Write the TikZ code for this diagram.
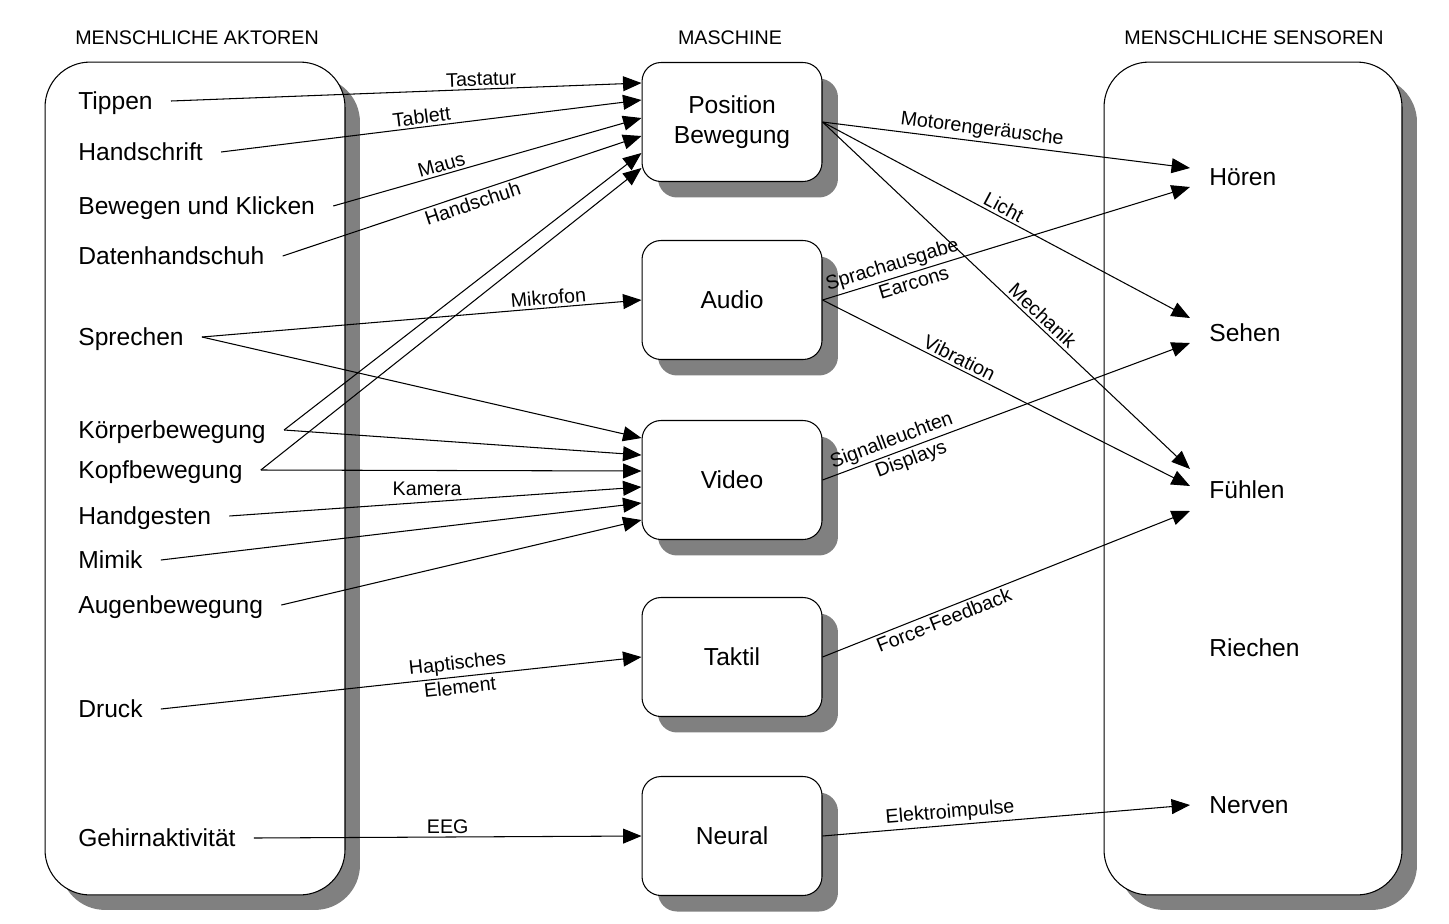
\documentclass[tikz,border=0pt]{standalone}
\usepackage{fontspec}
\setmainfont{Liberation Sans}
\usetikzlibrary{arrows.meta, shadows}

\begin{document}
\begin{tikzpicture}[
  x=0.02cm, y=-0.02cm,
  gruppe/.style={draw, line width=0.6pt, fill=white, rounded corners=0.9cm,
    general shadow={fill=black!50, shadow xshift=0.3cm, shadow yshift=-0.3cm}},
  kanal/.style={draw, line width=0.6pt, fill=white, rounded corners=0.38cm,
    minimum width=3.6cm, minimum height=2.38cm, align=center,
    font=\fontsize{14}{17}\selectfont,
    general shadow={fill=black!50, shadow xshift=0.32cm, shadow yshift=-0.32cm}},
  titel/.style={font=\fontsize{11.2}{13}\selectfont},
  aktor/.style={anchor=west, inner xsep=0.36cm, text height=11pt, text depth=1pt,
    font=\fontsize{14}{16}\selectfont},
  sensor/.style={anchor=west, inner xsep=0.38cm, text height=11pt, text depth=1pt,
    font=\fontsize{14}{16}\selectfont},
  msg/.style={-{Triangle[length=10.5pt, width=8.5pt]}, line width=0.6pt},
  lbl/.style={font=\fontsize{11.2}{13}\selectfont, inner sep=1.5pt}
]
\useasboundingbox (0,0) rectangle (1449,923);

\node[titel] (t1) at (197,38) {MENSCHLICHE AKTOREN};
\node[titel] (t2) at (730,38) {MASCHINE};
\node[titel] (t3) at (1254,38) {MENSCHLICHE SENSOREN};

\node[gruppe, minimum width=6cm, minimum height=16.66cm] (aktoren) at (195,478.5) {};
\node[gruppe, minimum width=5.96cm, minimum height=16.66cm] (sensoren) at (1253,478.5) {};

\node[kanal] (pos) at (732,122) {Position\\Bewegung};
\node[kanal] (audio) at (732,300) {Audio};
\node[kanal] (video) at (732,480) {Video};
\node[kanal] (taktil) at (732,657) {Taktil};
\node[kanal] (neural) at (732,836) {Neural};

\node[aktor] (tippen) at (60,101) {Tippen};
\node[aktor] (handschrift) at (60,152) {Handschrift};
\node[aktor] (klicken) at (60,206) {Bewegen und Klicken};
\node[aktor] (handschuh) at (60,256) {Datenhandschuh};
\node[aktor] (sprechen) at (60,337) {Sprechen};
\node[aktor] (koerper) at (60,430) {Körperbewegung};
\node[aktor] (kopf) at (60,470) {Kopfbewegung};
\node[aktor] (handgesten) at (60,516) {Handgesten};
\node[aktor] (mimik) at (60,560) {Mimik};
\node[aktor] (augen) at (60,605) {Augenbewegung};
\node[aktor] (druck) at (60,709) {Druck};
\node[aktor] (gehirn) at (60,838) {Gehirnaktivität};

\node[sensor] (hoeren) at (1190,177) {Hören};
\node[sensor] (sehen) at (1190,333) {Sehen};
\node[sensor] (fuehlen) at (1190,490) {Fühlen};
\node[sensor] (riechen) at (1190,648) {Riechen};
\node[sensor] (nerven) at (1190,805) {Nerven};

% Aktoren -> Maschine
\draw[msg] (tippen.east) -- ([yshift=0.78cm]pos.west) node[lbl, pos=0.66, above, sloped]{Tastatur};
\draw[msg] (handschrift.east) -- ([yshift=0.44cm]pos.west) node[lbl, pos=0.48, above, sloped]{Tablett};
\draw[msg] (klicken.east) -- ([yshift=0.08cm]pos.west) node[lbl, pos=0.36, above, sloped]{Maus};
\draw[msg] (handschuh.east) -- ([yshift=-0.28cm]pos.west) node[lbl, pos=0.52, below, sloped]{Handschuh};
\draw[msg] (koerper.east) -- ([yshift=-0.62cm]pos.west);
\draw[msg] (kopf.east) -- ([yshift=-0.92cm]pos.west);

\draw[msg] (sprechen.east) -- (audio.west) node[lbl, pos=0.79, above, sloped]{Mikrofon};

\draw[msg] (sprechen.east) -- ([yshift=0.84cm]video.west);
\draw[msg] (koerper.east) -- ([yshift=0.5cm]video.west);
\draw[msg] (kopf.east) -- ([yshift=0.18cm]video.west);
\draw[msg] (handgesten.east) -- ([yshift=-0.14cm]video.west) node[lbl, pos=0.48, above=2pt]{Kamera};
\draw[msg] (mimik.east) -- ([yshift=-0.46cm]video.west);
\draw[msg] (augen.east) -- ([yshift=-0.8cm]video.west);

\draw[msg] (druck.east) -- (taktil.west)
  node[lbl, pos=0.62, above, sloped]{Haptisches}
  node[lbl, pos=0.62, below, sloped]{Element};
\draw[msg] (gehirn.east) -- (neural.west) node[lbl, midway, above]{EEG};

% Maschine -> Sensoren
\draw[msg] (pos.east) -- ([yshift=0.18cm]hoeren.west) node[lbl, pos=0.43, above, sloped]{Motorengeräusche};
\draw[msg] (pos.east) -- ([yshift=0.3cm]sehen.west) node[lbl, pos=0.48, above, sloped]{Licht};
\draw[msg] (pos.east) -- ([yshift=0.42cm]fuehlen.west) node[lbl, pos=0.58, above, sloped]{Mechanik};
\draw[msg] (audio.east) -- ([yshift=-0.2cm]hoeren.west)
  node[lbl, pos=0.2, above, sloped]{Sprachausgabe}
  node[lbl, pos=0.24, below, sloped]{Earcons};
\draw[msg] (audio.east) -- ([yshift=0.08cm]fuehlen.west) node[lbl, pos=0.36, above, sloped]{Vibration};
\draw[msg] (video.east) -- ([yshift=-0.2cm]sehen.west)
  node[lbl, pos=0.2, above, sloped]{Signalleuchten}
  node[lbl, pos=0.23, below, sloped]{Displays};
\draw[msg] (taktil.east) -- ([yshift=-0.42cm]fuehlen.west) node[lbl, pos=0.32, below, sloped]{Force-Feedback};
\draw[msg] (neural.east) -- (nerven.west) node[lbl, pos=0.35, above, sloped]{Elektroimpulse};
\end{tikzpicture}
\end{document}
